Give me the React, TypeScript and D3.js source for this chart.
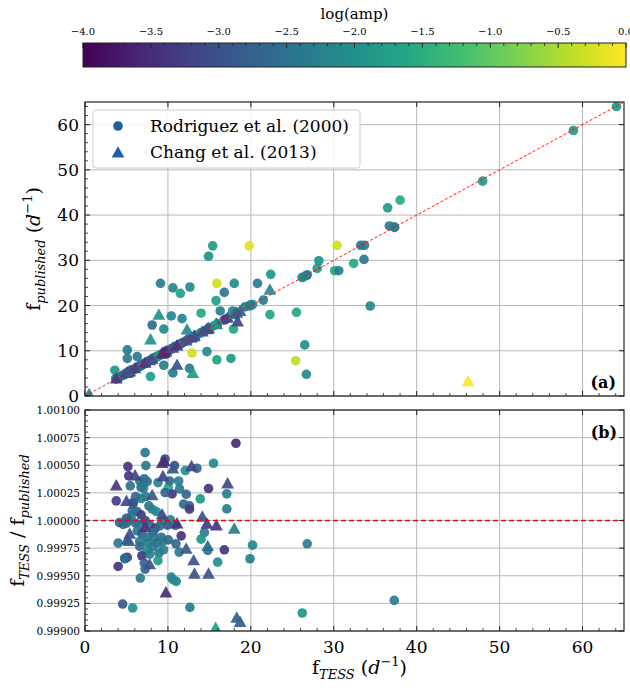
import React from "react";
import * as d3 from "d3";

// Rodriguez et al. (2000) points with ratio inside panel (b): [fTESS, fTESS/fpub, log amp]
const rodB: number[][] = [
  [18.2, 1.000699, -3.5], [15.5, 1.000518, -2.1], [13.5, 1.000473, -2.7], [12.1, 1.000452, -1.9],
  [11.3, 1.000358, -2.3], [11.4, 1.000286, -2.4], [10.05, 1.000298, -1.6], [10.5, 1.00024, -3.3],
  [12.2, 1.000238, -2.7], [14.9, 1.000289, -3.4], [13.9, 1.000196, -1.8], [17.1, 1.000241, -2.3],
  [17.1, 1.000105, -2.3], [11.9, 1.000148, -2.6], [12.6, 1.000133, -2.8], [12.6, 1.000102, -3.3],
  [14.4, 0.999892, -2.3], [14.0, 0.999831, -1.9], [11.6, 0.999861, -3.4], [10.97, 0.999789, -2.7],
  [11.35, 0.999714, -2.4], [14.8, 0.999729, -2.4], [16.8, 0.999735, -3.4], [20.2, 0.999777, -2.2],
  [19.9, 0.999654, -2.3], [16.0, 0.999623, -2.0], [10.4, 0.999488, -2.2], [10.6, 0.999464, -2.1],
  [11.0, 0.999449, -2.1], [12.65, 0.999214, -2.4], [4.54, 0.999244, -2.9], [5.75, 0.999208, -2.0],
  [26.2, 0.999163, -1.9], [37.3, 0.999277, -2.3], [26.8, 0.999789, -2.3],
  [3.77, 1.000178, -3.3], [4.0, 0.999795, -2.4], [4.0, 0.999584, -3.4], [4.8, 0.99966, -2.4],
  [5.1, 0.999666, -3.3], [5.17, 1.000488, -3.4], [5.27, 1.000404, -3.4], [5.46, 1.000313, -2.5],
  [4.6, 0.999964, -2.8], [5.0, 0.999976, -2.6], [5.8, 1.000163, -3.3], [5.7, 1.00009, -2.6],
  [6.3, 1.000081, -2.5], [6.6, 1.000358, -2.4], [6.76, 1.000301, -2.6], [7.25, 1.000614, -2.4],
  [7.34, 1.000497, -2.4], [7.15, 1.000377, -2.6], [7.5, 1.000352, -2.5], [7.05, 1.000292, -2.4],
  [6.76, 1.000199, -2.2], [7.3, 1.000217, -2.3], [7.7, 1.000133, -2.4], [8.1, 1.000102, -2.3],
  [8.6, 1.000081, -2.2], [6.76, 1.000051, -3.3], [8.8, 1.000343, -2.2], [9.66, 1.000557, -3.0],
  [10.8, 1.000497, -3.0], [10.2, 1.000358, -2.6], [9.66, 1.000253, -2.7], [9.37, 1.0, -2.4],
  [10.3, 1.000006, -2.3], [4.15, 0.999982, -2.7], [5.3, 1.000006, -2.4], [6.1, 0.999976, -2.7],
  [6.57, 0.999961, -2.5], [7.25, 1.0, -3.2], [7.8, 0.999961, -2.7], [8.5, 0.999931, -3.4],
  [9.0, 0.999952, -2.6], [9.95, 0.999958, -2.9], [10.9, 0.999955, -2.4], [6.3, 0.999907, -2.4],
  [6.86, 0.99988, -2.8], [7.5, 0.999849, -2.4], [8.2, 0.999892, -2.6], [8.3, 0.999849, -2.4],
  [9.2, 0.999849, -2.5], [6.6, 0.99981, -2.4], [7.6, 0.999795, -2.4], [8.7, 0.999795, -2.6],
  [9.37, 0.99981, -2.4], [10.05, 0.999825, -2.6], [6.6, 0.999765, -2.6], [7.5, 0.999726, -1.9],
  [8.2, 0.999765, -2.4], [9.47, 0.999735, -2.3], [6.86, 0.999681, -3.4], [7.8, 0.999696, -2.3],
  [8.9, 0.999705, -2.4], [8.8, 0.999636, -1.8], [7.15, 0.999614, -2.7], [7.25, 0.99956, -2.7],
  [6.67, 0.999479, -2.4], [4.8, 0.999654, -2.6], [5.56, 1.000036, -2.4], [5.0, 1.000021, -2.8],
  [6.1, 1.000217, -2.7], [5.8, 1.000151, -2.9],
];

// Chang et al. (2013) points inside panel (b)
const changB: number[][] = [
  [12.85, 1.000488, -3.2], [17.2, 1.000331, -3.1], [14.15, 1.00003, -3.0], [14.7, 0.999967, -3.3],
  [15.85, 0.999952, -3.4], [18.0, 0.999922, -2.4], [12.2, 0.999741, -2.9], [14.8, 0.999765, -2.6],
  [13.1, 0.999636, -3.0], [13.2, 0.999515, -3.0], [14.9, 0.999515, -3.0], [9.76, 0.999346, -3.5],
  [18.3, 0.999117, -2.8], [18.7, 0.999078, -2.8], [15.75, 0.999024, -1.7],
  [3.77, 1.000313, -3.3], [5.0, 1.000172, -3.1], [5.1, 0.999825, -3.0], [5.4, 0.999877, -3.0],
  [6.04, 1.000404, -3.2], [8.1, 1.000226, -2.9], [9.3, 1.000051, -3.1], [9.4, 1.000398, -3.2],
  [9.3, 1.000518, -3.3], [9.56, 1.000533, -3.5], [10.6, 1.000467, -2.9], [7.25, 0.999937, -3.4],
  [11.1, 0.99997, -3.4], [7.8, 0.9996, -3.0], [5.3, 0.99981, -2.9],
];

// points seen only in panel (a): [fTESS, fpub, log amp]
const rodA: number[][] = [
  [15.4, 33.2, -1.8], [14.9, 30.9, -2.0], [19.8, 33.2, -0.2], [9.1, 24.9, -2.3], [10.6, 23.9, -2.2],
  [11.5, 22.7, -1.7], [12.65, 24.1, -2.1], [15.9, 24.9, -0.3], [18.0, 24.9, -2.1], [20.8, 24.9, -2.4],
  [16.8, 22.9, -2.4], [15.8, 21.1, -1.7], [10.4, 17.7, -2.2], [11.7, 17.1, -2.2], [8.1, 15.7, -2.6],
  [9.5, 14.8, -2.1], [14.0, 18.3, -1.6], [16.3, 18.8, -2.3], [17.8, 18.8, -2.2], [17.9, 14.8, -1.6],
  [12.9, 9.5, -0.3], [15.9, 8.0, -1.7], [17.6, 8.3, -1.8], [14.7, 9.8, -2.1], [10.6, 5.1, -2.3],
  [12.6, 6.1, -2.3], [7.9, 4.3, -1.8], [5.1, 10.2, -2.4], [5.1, 8.3, -2.4], [6.3, 8.7, -2.4],
  [3.6, 5.7, -1.9], [3.7, 3.9, -2.1], [9.5, 6.8, -2.3],
  [36.5, 41.6, -1.8], [38.0, 43.3, -1.5], [36.7, 37.6, -2.3], [37.35, 37.3, -2.3], [30.4, 33.3, -0.3],
  [33.25, 33.3, -2.3], [33.7, 33.3, -2.3], [33.65, 30.2, -2.4], [32.4, 29.3, -1.6], [28.2, 29.9, -1.9],
  [28.0, 28.2, -1.8], [30.1, 27.7, -1.6], [30.6, 27.7, -2.3], [26.2, 26.2, -1.9], [26.7, 26.6, -2.3],
  [22.4, 26.9, -1.9], [21.5, 21.2, -2.3], [19.9, 20.1, -2.3], [19.3, 19.7, -2.3], [22.3, 18.0, -1.6],
  [25.5, 18.5, -1.6], [34.4, 19.9, -2.1], [26.5, 11.3, -2.0], [25.4, 7.8, -0.4], [26.7, 4.8, -2.1],
  [64.1, 64.0, -1.8], [58.9, 58.7, -1.8], [47.95, 47.5, -1.8],
];

const changA: number[][] = [
  [8.9, 17.9, -2.0], [7.9, 12.4, -2.0], [11.1, 6.8, -3.0], [13.0, 5.0, -1.8], [18.4, 16.4, -3.1],
  [22.3, 23.4, -2.1], [12.3, 14.6, -2.1], [46.2, 3.2, 0.0], [0.5, 0.3, -2.4],
];

const xTicks = [0, 10, 20, 30, 40, 50, 60];
const yTicksA = [0, 10, 20, 30, 40, 50, 60];
const yTicksB = [0.999, 0.99925, 0.9995, 0.99975, 1.0, 1.00025, 1.0005, 1.00075, 1.001];
const cbTicks = [-4, -3.5, -3, -2.5, -2, -1.5, -1, -0.5, 0];

const FONT = "DejaVu Serif";

const tri = (cx: number, cy: number, s: number) =>
  `M${cx},${cy - s * 0.62}L${cx + s * 0.58},${cy + s * 0.42}L${cx - s * 0.58},${cy + s * 0.42}Z`;

export default function App() {
  const W = 630, H = 688;
  const L = 85, R = 624;
  const aTop = 102, aBot = 396;
  const bTop = 410, bBot = 631;

  const x = d3.scaleLinear().domain([0, 65]).range([L, R]);
  const ya = d3.scaleLinear().domain([0, 65]).range([aBot, aTop]);
  const yb = d3.scaleLinear().domain([0.999, 1.001]).range([bBot, bTop]);
  const col = d3.scaleSequential(d3.interpolateViridis).domain([-4, 0]);
  const cbx = d3.scaleLinear().domain([-4, 0]).range([83, 626]);
  const fmtB = d3.format(".5f");
  const fmtC = d3.format(".1f");

  const xMinor = d3.range(0, 65, 2).filter((v) => v % 10 !== 0);
  const yMinorA = d3.range(0, 65, 2).filter((v) => v % 10 !== 0);
  const yMinorB = d3.range(0, 41).map((i) => 0.999 + i * 0.00005).filter((_, i) => i % 5 !== 0);
  const cbMinor = d3.range(0, 41).map((i) => -4 + i * 0.1).filter((_, i) => i % 5 !== 0);

  const gradStops = d3.range(0, 11).map((i) => i / 10);

  const panelA = [...rodB.map((d) => [d[0], d[0] / d[1], d[2]]), ...rodA];
  const panelAch = [...changB.map((d) => [d[0], d[0] / d[1], d[2]]), ...changA];

  const frame = (top: number, bot: number) => (
    <rect x={L} y={top} width={R - L} height={bot - top} fill="none" stroke="#222" strokeWidth={1.2} />
  );

  return (
    <svg width={W} height={H} style={{ position: "absolute", left: 0, top: 0, background: "#fff" }} fontFamily={FONT}>
      <defs>
        <linearGradient id="vir" x1="0" x2="1" y1="0" y2="0">
          {gradStops.map((t) => (
            <stop key={t} offset={t} stopColor={d3.interpolateViridis(t)} />
          ))}
        </linearGradient>
        <clipPath id="clipA"><rect x={L} y={aTop} width={R - L} height={aBot - aTop} /></clipPath>
        <clipPath id="clipB"><rect x={L} y={bTop} width={R - L} height={bBot - bTop} /></clipPath>
      </defs>

      {/* colorbar */}
      <text x={(83 + 626) / 2} y={19} textAnchor="middle" fontSize={15}>log(amp)</text>
      <rect x={83} y={43} width={626 - 83} height={24} fill="url(#vir)" stroke="#222" strokeWidth={1} />
      {cbTicks.map((t) => (
        <g key={t}>
          <line x1={cbx(t)} x2={cbx(t)} y1={43} y2={48} stroke="#222" />
          <text x={cbx(t)} y={35} textAnchor="middle" fontSize={10}>{fmtC(t)}</text>
        </g>
      ))}
      {cbMinor.map((t, i) => (
        <line key={i} x1={cbx(t)} x2={cbx(t)} y1={43} y2={46} stroke="#222" strokeWidth={0.8} />
      ))}

      {/* panel a */}
      <g>
        {xTicks.map((t) => (
          <line key={t} x1={x(t)} x2={x(t)} y1={aTop} y2={aBot} stroke="#b0b0b0" strokeWidth={0.9} />
        ))}
        {yTicksA.map((t) => (
          <line key={t} x1={L} x2={R} y1={ya(t)} y2={ya(t)} stroke="#b0b0b0" strokeWidth={0.9} />
        ))}
        <g clipPath="url(#clipA)">
          {panelA.map((d, i) => (
            <circle key={i} cx={x(d[0])} cy={ya(d[1])} r={4.8} fill={col(d[2])} fillOpacity={0.92} />
          ))}
          {panelAch.map((d, i) => (
            <path key={i} d={tri(x(d[0]), ya(d[1]), 11)} fill={col(d[2])} fillOpacity={0.92} />
          ))}
          <line x1={x(0)} y1={ya(0)} x2={x(65)} y2={ya(65)} stroke="red" strokeWidth={0.9} strokeDasharray="3,2" />
        </g>
        {frame(aTop, aBot)}
        {xTicks.map((t) => (
          <g key={t}>
            <line x1={x(t)} x2={x(t)} y1={aBot} y2={aBot - 5} stroke="#222" />
            <line x1={x(t)} x2={x(t)} y1={aTop} y2={aTop + 5} stroke="#222" />
          </g>
        ))}
        {xMinor.map((t) => (
          <line key={t} x1={x(t)} x2={x(t)} y1={aBot} y2={aBot - 3} stroke="#222" strokeWidth={0.8} />
        ))}
        {yTicksA.map((t) => (
          <g key={t}>
            <line x1={L} x2={L + 5} y1={ya(t)} y2={ya(t)} stroke="#222" />
            <line x1={R} x2={R - 5} y1={ya(t)} y2={ya(t)} stroke="#222" />
            <text x={L - 6} y={ya(t) + 6} textAnchor="end" fontSize={17}>{t}</text>
          </g>
        ))}
        {yMinorA.map((t) => (
          <line key={t} x1={L} x2={L + 3} y1={ya(t)} y2={ya(t)} stroke="#222" strokeWidth={0.8} />
        ))}
        <text transform={`translate(40,${(aTop + aBot) / 2}) rotate(-90)`} textAnchor="middle" fontSize={19}>
          f<tspan fontSize={13} fontStyle="italic" dy={5}>published</tspan>
          <tspan dy={-5}> (</tspan><tspan fontStyle="italic">d</tspan>
          <tspan fontSize={13} dy={-8}>−1</tspan><tspan dy={8}>)</tspan>
        </text>
        {/* legend */}
        <rect x={93} y={110} width={267} height={58} rx={3} fill="#fff" fillOpacity={0.85} stroke="#cccccc" />
        <circle cx={118} cy={126} r={4.8} fill="#1f5fa6" />
        <path d={tri(118, 153, 11)} fill="#1f5fa6" />
        <text x={150} y={132} fontSize={17}>Rodriguez et al. (2000)</text>
        <text x={150} y={158} fontSize={17}>Chang et al. (2013)</text>
        <text x={616} y={388} textAnchor="end" fontSize={16} fontWeight="bold">(a)</text>
      </g>

      {/* panel b */}
      <g>
        {xTicks.map((t) => (
          <line key={t} x1={x(t)} x2={x(t)} y1={bTop} y2={bBot} stroke="#b0b0b0" strokeWidth={0.9} />
        ))}
        {yTicksB.map((t) => (
          <line key={t} x1={L} x2={R} y1={yb(t)} y2={yb(t)} stroke="#b0b0b0" strokeWidth={0.9} />
        ))}
        <g clipPath="url(#clipB)">
          {rodB.map((d, i) => (
            <circle key={i} cx={x(d[0])} cy={yb(d[1])} r={4.8} fill={col(d[2])} fillOpacity={0.92} />
          ))}
          {changB.map((d, i) => (
            <path key={i} d={tri(x(d[0]), yb(d[1]), 11)} fill={col(d[2])} fillOpacity={0.92} />
          ))}
        </g>
        <line x1={L} x2={R} y1={yb(1)} y2={yb(1)} stroke="red" strokeWidth={1.4} strokeDasharray="5,3" />
        {frame(bTop, bBot)}
        {xTicks.map((t) => (
          <g key={t}>
            <line x1={x(t)} x2={x(t)} y1={bBot} y2={bBot - 5} stroke="#222" />
            <line x1={x(t)} x2={x(t)} y1={bTop} y2={bTop + 5} stroke="#222" />
            <text x={x(t)} y={bBot + 22} textAnchor="middle" fontSize={17}>{t}</text>
          </g>
        ))}
        {xMinor.map((t) => (
          <line key={t} x1={x(t)} x2={x(t)} y1={bBot} y2={bBot - 3} stroke="#222" strokeWidth={0.8} />
        ))}
        {yTicksB.map((t) => (
          <g key={t}>
            <line x1={L} x2={L + 5} y1={yb(t)} y2={yb(t)} stroke="#222" />
            <line x1={R} x2={R - 5} y1={yb(t)} y2={yb(t)} stroke="#222" />
            <text x={L - 5} y={yb(t) + 4} textAnchor="end" fontSize={10.5}>{fmtB(t)}</text>
          </g>
        ))}
        {yMinorB.map((t, i) => (
          <line key={i} x1={L} x2={L + 3} y1={yb(t)} y2={yb(t)} stroke="#222" strokeWidth={0.8} />
        ))}
        <text transform={`translate(24,${(bTop + bBot) / 2}) rotate(-90)`} textAnchor="middle" fontSize={19}>
          f<tspan fontSize={13} fontStyle="italic" dy={5}>TESS</tspan>
          <tspan dy={-5}> / f</tspan><tspan fontSize={13} fontStyle="italic" dy={5}>published</tspan>
        </text>
        <text x={(L + R) / 2 + 5} y={674} textAnchor="middle" fontSize={19}>
          f<tspan fontSize={13} fontStyle="italic" dy={5}>TESS</tspan>
          <tspan dy={-5}> (</tspan><tspan fontStyle="italic">d</tspan>
          <tspan fontSize={13} dy={-8}>−1</tspan><tspan dy={8}>)</tspan>
        </text>
        <text x={617} y={438} textAnchor="end" fontSize={16} fontWeight="bold">(b)</text>
      </g>
    </svg>
  );
}
